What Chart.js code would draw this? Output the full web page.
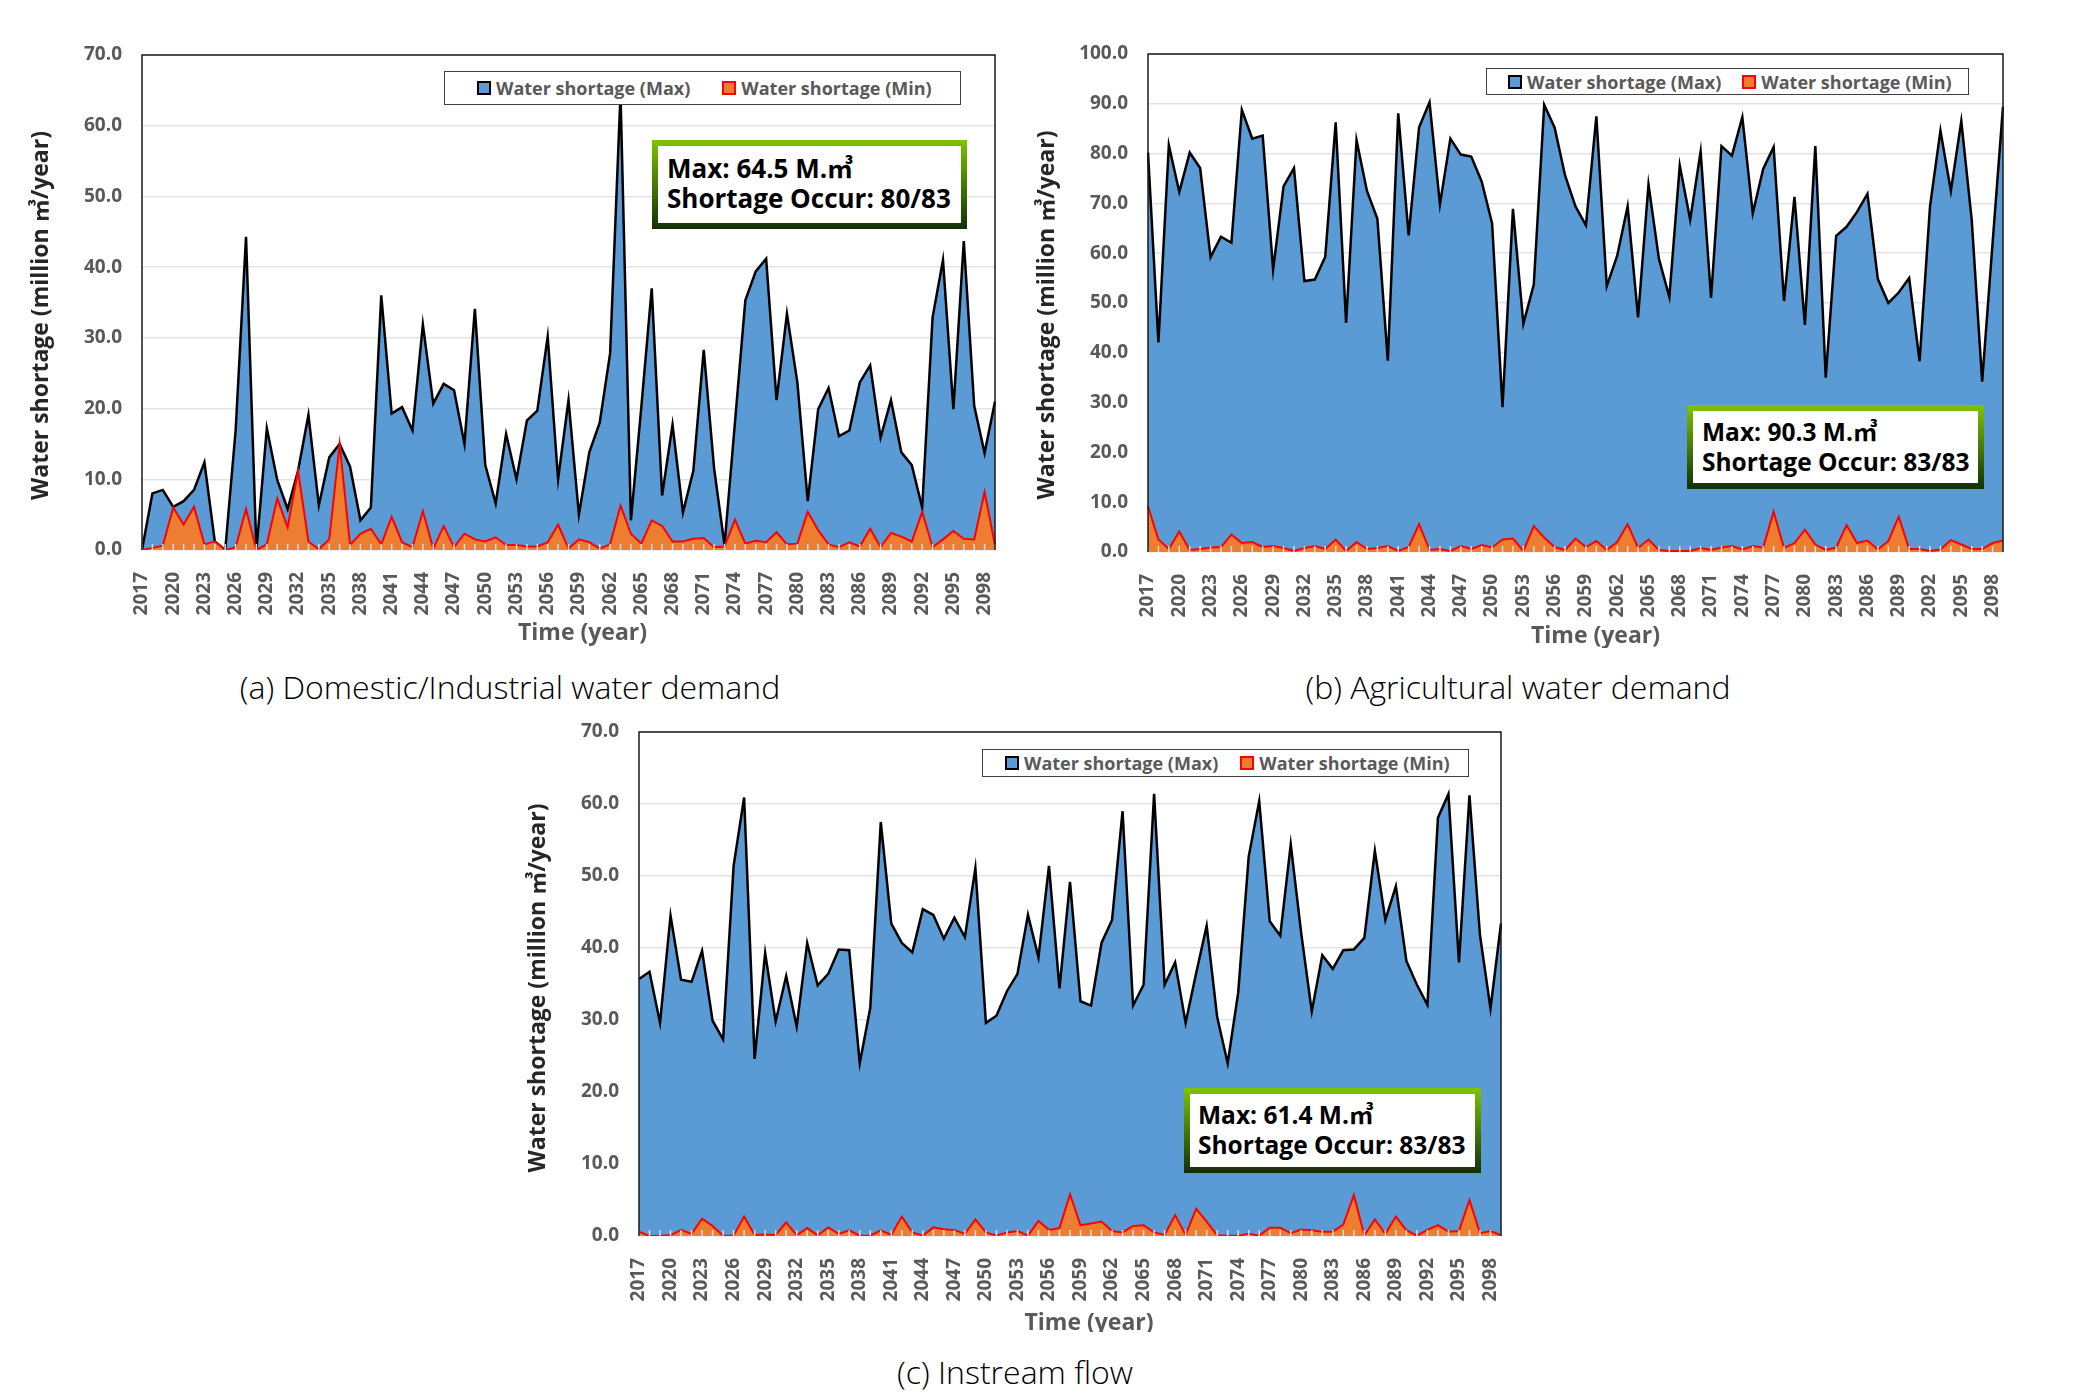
<!DOCTYPE html>
<html>
<head>
<meta charset="utf-8">
<title>Water shortage</title>
<script src="https://cdn.jsdelivr.net/npm/chart.js@4.4.0/dist/chart.umd.min.js"></script>
<style>
  body { margin: 0; background: #fff; width: 2074px; height: 1400px; position: relative; overflow: hidden;
         font-family: 'Open Sans', 'Noto Sans CJK KR', sans-serif; }
  canvas { position: absolute; }
  .legend { position: absolute; box-sizing: border-box; border: 1.5px solid #404040; background: #fff;
            display: flex; align-items: center; color: #595959; font-weight: 700; font-size: 18px; white-space: nowrap; }
  .legend span { display: flex; align-items: center; }
  .legend i { display: inline-block; width: 14px; height: 14px; box-sizing: border-box; border: 2px solid; margin-right: 5px; }
  .note { position: absolute; box-sizing: border-box; border: 6px solid transparent;
          background: linear-gradient(#fff, #fff) padding-box, linear-gradient(#7fc400, #10300a) border-box;
          font-family: 'Open Sans', 'Noto Sans CJK KR', sans-serif; font-weight: 700; line-height: 30px;
          color: #000; white-space: nowrap; }
  .caption { position: absolute; transform: translate(-50%, -50%); font-size: 32px; font-weight: 300; line-height: 1;
             color: #000; white-space: nowrap; }
</style>
</head>
<body>
<canvas id="chart_a" width="972" height="601" style="left:28px;top:45px"></canvas>
<canvas id="chart_b" width="974" height="604" style="left:1034px;top:44px"></canvas>
<canvas id="chart_c" width="981" height="610" style="left:525px;top:722px"></canvas>

<script>
/* ---------------------------------------------------------------- DATA */
var years = [];
for (var y = 2017; y <= 2099; y++) years.push(String(y));

var seriesNames = ['Water shortage (Max)', 'Water shortage (Min)'];

// (a) Domestic/Industrial water demand
var domesticMax = [
  0, 8.0, 8.5, 6.1, 6.9, 8.5, 12.4, 1.2, 0, 16.9,
  44.3, 0, 17.2, 9.9, 5.8, 11.2, 19.1, 6.3, 13.1, 15.0,
  11.8, 4.2, 6.0, 36.0, 19.3, 20.2, 16.9, 31.9, 20.7, 23.5,
  22.6, 15.0, 34.1, 12.0, 6.6, 16.4, 10.0, 18.3, 19.7, 30.2,
  10.0, 21.2, 5.0, 13.8, 18.0, 27.8, 64.5, 4.2, 20.2, 37.0,
  7.7, 17.7, 5.3, 11.2, 28.3, 11.5, 0.7, 18.0, 35.3, 39.4,
  41.2, 21.2, 33.4, 23.7, 6.9, 19.9, 22.9, 16.1, 16.9, 23.7,
  26.1, 15.9, 21.2, 13.8, 12.0, 6.0, 32.9, 41.0, 19.9, 43.7,
  20.4, 13.7, 21.0
];
var domesticMin = [
  0, 0.3, 0.6, 6.0, 3.6, 6.1, 0.8, 1.2, 0, 0.4,
  5.8, 0, 0.8, 7.3, 3.2, 11.2, 1.2, 0.1, 1.5, 15.0,
  0.7, 2.3, 3.0, 0.8, 4.7, 1.1, 0.4, 5.5, 0.2, 3.4,
  0.4, 2.3, 1.5, 1.2, 1.8, 0.7, 0.7, 0.5, 0.5, 1.1,
  3.6, 0.2, 1.5, 1.1, 0.2, 0.8, 6.3, 2.3, 0.9, 4.2,
  3.4, 1.2, 1.2, 1.6, 1.7, 0.4, 0.5, 4.3, 0.9, 1.3,
  1.1, 2.5, 0.8, 0.9, 5.4, 2.8, 0.8, 0.4, 1.1, 0.5,
  3.0, 0.4, 2.4, 1.9, 1.2, 5.4, 0.4, 1.5, 2.7, 1.6,
  1.5, 8.2, 0.7
];

// (b) Agricultural water demand
var agriMax = [
  80.2, 42.1, 81.7, 72.3, 80.2, 77.1, 59.2, 63.3, 62.1, 88.8,
  83.0, 83.6, 56.7, 73.4, 77.1, 54.4, 54.7, 59.3, 86.3, 46.0,
  82.7, 72.5, 66.9, 38.4, 88.1, 63.6, 85.3, 90.3, 69.8, 83.0,
  79.8, 79.4, 74.4, 66.0, 29.1, 68.9, 45.8, 53.7, 89.8, 85.2,
  75.6, 69.4, 65.6, 87.5, 53.4, 59.5, 69.4, 47.1, 73.8, 58.9,
  51.2, 77.6, 66.7, 80.4, 51.0, 81.5, 79.6, 87.3, 68.0, 76.9,
  81.3, 50.4, 71.3, 45.6, 81.5, 35.0, 63.5, 65.3, 68.3, 71.9,
  54.8, 50.0, 52.1, 55.0, 38.3, 69.4, 84.6, 72.5, 86.5, 66.7,
  34.2, 62.0, 89.4
];
var agriMin = [
  9.2, 2.5, 0.6, 4.1, 0.4, 0.6, 0.9, 1.0, 3.5, 1.8,
  2.0, 1.0, 1.2, 0.8, 0.2, 0.8, 1.2, 0.6, 2.5, 0.2,
  2.0, 0.6, 0.8, 1.2, 0.2, 1.0, 5.6, 0.4, 0.6, 0.2,
  1.2, 0.6, 1.4, 0.9, 2.5, 2.7, 0.2, 5.2, 2.9, 1.0,
  0.4, 2.7, 1.0, 2.2, 0.4, 2.0, 5.6, 0.8, 2.5, 0.4,
  0.2, 0.2, 0.2, 0.8, 0.4, 0.9, 1.2, 0.5, 1.2, 0.9,
  8.1, 0.8, 1.8, 4.5, 1.5, 0.4, 0.9, 5.4, 1.8, 2.3,
  0.5, 2.2, 7.1, 0.6, 0.6, 0.2, 0.5, 2.4, 1.5, 0.6,
  0.6, 1.8, 2.3
];

// (c) Instream flow
var instreamMax = [
  35.7, 36.7, 29.6, 44.5, 35.6, 35.3, 39.6, 29.9, 27.3, 51.4,
  60.9, 24.6, 39.3, 29.8, 36.1, 29.1, 40.7, 34.8, 36.4, 39.8,
  39.7, 24.0, 31.7, 57.5, 43.4, 40.7, 39.4, 45.4, 44.6, 41.3,
  44.2, 41.5, 51.1, 29.6, 30.6, 34.0, 36.4, 44.6, 38.7, 51.4,
  34.4, 49.2, 32.6, 32.0, 40.7, 43.9, 59.0, 32.0, 34.9, 61.4,
  34.9, 38.0, 29.6, 36.5, 43.1, 30.4, 24.0, 33.8, 52.7, 60.4,
  43.7, 41.7, 54.4, 42.0, 31.2, 39.0, 37.1, 39.7, 39.8, 41.4,
  53.5, 43.9, 48.6, 38.2, 34.9, 32.1, 58.1, 61.4, 38.0, 61.2,
  41.8, 31.6, 43.4
];
var instreamMin = [
  0.6, 0, 0.05, 0.1, 0.85, 0.3, 2.4, 1.4, 0.05, 0.05,
  2.7, 0.15, 0.2, 0.15, 1.9, 0.1, 1.1, 0.1, 1.2, 0.3,
  0.8, 0.05, 0.05, 0.8, 0.15, 2.7, 0.5, 0.05, 1.2, 0.95,
  0.85, 0.3, 2.3, 0.5, 0.05, 0.5, 0.7, 0.05, 2.1, 0.85,
  1.1, 5.8, 1.5, 1.75, 2.0, 0.7, 0.5, 1.4, 1.5, 0.5,
  0.15, 2.9, 0.15, 3.8, 2.0, 0.1, 0.05, 0.05, 0.3, 0.05,
  1.15, 1.15, 0.4, 0.9, 0.8, 0.6, 0.6, 1.6, 5.7, 0.1,
  2.3, 0.3, 2.7, 0.8, 0.05, 0.85, 1.5, 0.6, 0.7, 5.0,
  0.4, 0.7, 0.1
];

var panelTitles = ['(a) Domestic/Industrial water demand', '(b) Agricultural water demand', '(c) Instream flow'];
var noteLines = [
  ['Max: 64.5 M.㎥', 'Shortage Occur: 80/83'],
  ['Max: 90.3 M.㎥', 'Shortage Occur: 83/83'],
  ['Max: 61.4 M.㎥', 'Shortage Occur: 83/83']
];
var yAxisTitle = 'Water shortage (million ㎥/year)';
var xAxisTitle = 'Time (year)';

/* -------------------------------------------------------------- LAYOUT */
var colors = ['#5b9bd5', '#000000', '#ed7d31', '#ff0000', '#595959'];
var FONT = "'Open Sans', 'Noto Sans CJK KR', sans-serif";

var panels = [
  { id: 'chart_a', max: domesticMax, min: domesticMin, yMax: 70,
    titles: { xShift: 14, xDrop: 83, yShift: 13 },
    legend: { left: 444, top: 71, width: 517, height: 34, pad: 32 },
    note: { left: 652, top: 140, width: 315, height: 89, padT: 7, padL: 9, size: 26 },
    caption: { x: 510, y: 687 } },
  { id: 'chart_b', max: agriMax, min: agriMin, yMax: 100,
    titles: { xShift: 20, xDrop: 84, yShift: 12 },
    legend: { left: 1486, top: 68, width: 483, height: 27, pad: 21 },
    note: { left: 1687, top: 405, width: 297, height: 84, padT: 6, padL: 9, size: 24.5 },
    caption: { x: 1518, y: 687 } },
  { id: 'chart_c', max: instreamMax, min: instreamMin, yMax: 70,
    titles: { xShift: 19, xDrop: 87, yShift: 4 },
    legend: { left: 982, top: 749, width: 487, height: 28, pad: 22 },
    note: { left: 1184, top: 1088, width: 297, height: 85, padT: 6, padL: 8, size: 24.5 },
    caption: { x: 1015, y: 1372 } }
];

// plot frame (left/top/right), inside tick marks on the time axis, axis titles
var framePlugin = {
  id: 'frame',
  afterDatasetsDraw: function(chart) {
    var a = chart.chartArea, ctx = chart.ctx, xs = chart.scales.x;
    ctx.save();
    ctx.strokeStyle = '#dcdcdc';
    ctx.lineWidth = 1.5;
    for (var i = 0; i < years.length; i++) {
      var px = xs.getPixelForTick(i);
      ctx.beginPath();
      ctx.moveTo(px, a.bottom);
      ctx.lineTo(px, a.bottom - 6);
      ctx.stroke();
    }
    ctx.strokeStyle = '#1a1a1a';
    ctx.lineWidth = 1.5;
    ctx.beginPath();
    ctx.moveTo(a.left, a.bottom);
    ctx.lineTo(a.left, a.top);
    ctx.lineTo(a.right, a.top);
    ctx.lineTo(a.right, a.bottom);
    ctx.stroke();
    ctx.restore();
  },
  afterDraw: function(chart, args, opts) {
    var a = chart.chartArea, ctx = chart.ctx;
    ctx.save();
    ctx.textAlign = 'center';
    ctx.textBaseline = 'middle';
    ctx.font = 'bold 23px ' + FONT;
    ctx.fillStyle = colors[4];
    ctx.fillText(xAxisTitle, (a.left + a.right) / 2 + opts.xShift, a.bottom + opts.xDrop);
    ctx.translate(a.left - 101, (a.top + a.bottom) / 2 + opts.yShift);
    ctx.rotate(-Math.PI / 2);
    ctx.fillStyle = '#262626';
    ctx.fillText(yAxisTitle, 0, 0);
    ctx.restore();
  }
};

/* ---------------------------------------------------------------- MAIN */
panels.forEach(function(p, k) {
  new Chart(document.getElementById(p.id).getContext('2d'), {
    type: 'line',
    data: {
      labels: years,
      datasets: [{
        label: seriesNames[0],
        data: p.max,
        fill: 'origin',
        backgroundColor: colors[0],
        borderColor: colors[1],
        borderWidth: 2.5,
        pointRadius: 0,
        tension: 0,
        order: 1
      }, {
        label: seriesNames[1],
        data: p.min,
        fill: 'origin',
        backgroundColor: colors[2],
        borderColor: colors[3],
        borderWidth: 2,
        pointRadius: 0,
        tension: 0,
        order: 0
      }]
    },
    options: {
      responsive: false,
      animation: false,
      devicePixelRatio: 1,
      layout: { padding: { top: 10, right: 5, left: 0, bottom: 0 } },
      plugins: {
        legend: { display: false },
        tooltip: { enabled: false },
        frame: p.titles
      },
      scales: {
        x: {
          grid: { display: false },
          border: { display: false },
          ticks: {
            autoSkip: false,
            maxRotation: 90,
            minRotation: 90,
            padding: 14,
            color: colors[4],
            font: { family: FONT, size: 19, weight: 'bold' },
            callback: function(v, i) { return i % 3 === 0 ? years[i] : ''; }
          },
          afterFit: function(s) { s.height = 96; s.paddingLeft = 0; s.paddingRight = 0; }
        },
        y: {
          min: 0,
          max: p.yMax,
          grid: { color: '#e3e3e3', lineWidth: 1.5, drawTicks: false },
          border: { display: false },
          ticks: {
            stepSize: 10,
            padding: 20,
            color: colors[4],
            font: { family: FONT, size: 19, weight: 'bold' },
            callback: function(v) { return v.toFixed(1); }
          },
          afterFit: function(s) { s.width = 114; s.paddingTop = 0; s.paddingBottom = 0; }
        }
      }
    },
    plugins: [framePlugin]
  });

  // legend box
  var lg = document.createElement('div');
  lg.className = 'legend';
  lg.style.cssText = 'left:' + p.legend.left + 'px;top:' + p.legend.top + 'px;width:' + p.legend.width +
    'px;height:' + p.legend.height + 'px;padding-left:' + p.legend.pad + 'px;gap:' + p.legend.pad + 'px';
  seriesNames.forEach(function(name, j) {
    var it = document.createElement('span');
    var mk = document.createElement('i');
    mk.style.background = colors[j * 2];
    mk.style.borderColor = colors[j * 2 + 1];
    it.appendChild(mk);
    it.appendChild(document.createTextNode(name));
    lg.appendChild(it);
  });
  document.body.appendChild(lg);

  // max / occurrence box
  var nt = document.createElement('div');
  nt.className = 'note';
  nt.style.cssText = 'left:' + p.note.left + 'px;top:' + p.note.top + 'px;width:' + p.note.width +
    'px;height:' + p.note.height + 'px;padding:' + p.note.padT + 'px 0 0 ' + p.note.padL + 'px;font-size:' +
    p.note.size + 'px';
  nt.innerHTML = noteLines[k].join('<br>');
  document.body.appendChild(nt);

  // caption under the panel
  var cp = document.createElement('div');
  cp.className = 'caption';
  cp.style.left = p.caption.x + 'px';
  cp.style.top = p.caption.y + 'px';
  cp.textContent = panelTitles[k];
  document.body.appendChild(cp);
});
</script>
</body>
</html>
